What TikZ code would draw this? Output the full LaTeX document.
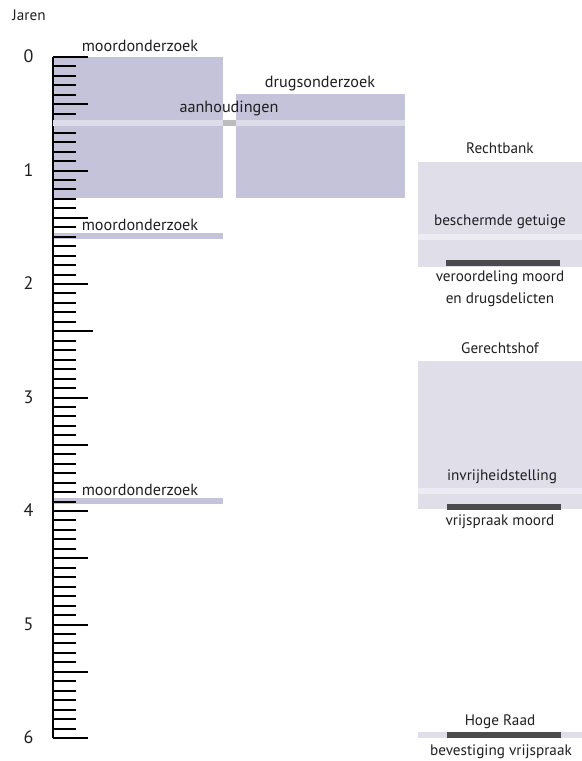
\documentclass[tikz,border=0pt]{standalone}
\usepackage{fontspec}
\setmainfont{PT Sans}
\definecolor{onderzoek}{HTML}{C5C3D9}
\definecolor{streep}{HTML}{DDDCE9}
\definecolor{rechter}{HTML}{DFDEE9}
\definecolor{rechterstreep}{HTML}{ECECF2}
\definecolor{verbinding}{HTML}{BCBCBC}
\definecolor{uitspraak}{HTML}{4B4B4D}

\begin{document}
\begin{tikzpicture}[x=0.5pt, y=-0.5pt,
	lbl/.style={font=\fontsize{8.1}{9}\selectfont, anchor=base, inner sep=0pt, text=black!88},
	rlbl/.style={lbl, font=\fontsize{7.6}{9}\selectfont},
	jaar/.style={font=\fontsize{9}{10}\selectfont, anchor=base, inner sep=0pt, text=black!88},
	tick/.style={line width=1pt, black}]
		\useasboundingbox (0,0) rectangle (582,761);
		\node[lbl, font=\fontsize{7.6}{8}\selectfont] (jaren) at (29,20) {Jaren};

		\fill[onderzoek] (53,57) rectangle (223,198);
		\fill[onderzoek] (236,94) rectangle (405,198);
		\fill[onderzoek] (53,233) rectangle (223,239);
		\fill[onderzoek] (53,498) rectangle (223,504);

		\fill[rechter] (418,162) rectangle (582,267);
		\fill[rechterstreep] (418,234) rectangle (582,240);
		\fill[uitspraak] (446,260) rectangle (560,266);
		\fill[rechter] (418,361) rectangle (582,509);
		\fill[rechterstreep] (418,488) rectangle (582,494);
		\fill[uitspraak] (447,504) rectangle (561,510);
		\fill[rechter] (418,732) rectangle (582,738);
		\fill[uitspraak] (447,732) rectangle (561,738);

		\draw[line width=1pt] (53,57) -- (53,738);
		\foreach \m in {0,...,72}{
			\pgfmathtruncatemacro{\r}{mod(\m,12)}
			\pgfmathsetmacro{\y}{57+\m*9.4583}
			\ifnum\r=0
				\draw[tick] (53,\y) -- (88,\y);
			\else\ifnum\r=5
				\draw[tick] (53,\y) -- (88,\y);
			\else
				\draw[tick] (53,\y) -- (76,\y);
			\fi\fi
		}
		\draw[tick] (53,331.2) -- (93,331.2);
		\foreach \j in {0,...,6}
			\node[jaar] (j\j) at (28.5,57+\j*113.5+5.5) {\j};

		\fill[streep] (53,120) rectangle (223,126);
		\fill[verbinding] (223,120) rectangle (236,126);
		\fill[streep] (236,120) rectangle (405,126);

		\node[lbl] (moord1) at (140,51.7) {moordonderzoek};
		\node[lbl] (moord2) at (140,230) {moordonderzoek};
		\node[lbl] (moord3) at (140,495) {moordonderzoek};
		\node[lbl] (aanh) at (229,112.7) {aanhoudingen};
		\node[lbl] (drugs) at (320,87.3) {drugsonderzoek};

		\node[rlbl] (rb) at (500,153.3) {Rechtbank};
		\node[rlbl] (getuige) at (500,225.7) {beschermde getuige};
		\node[rlbl] (veroord) at (500,281.7) {veroordeling moord};
		\node[rlbl] (delict) at (500,303.3) {en drugsdelicten};
		\node[rlbl] (hof) at (500,353.3) {Gerechtshof};
		\node[rlbl] (vrij) at (502,480) {invrijheidstelling};
		\node[rlbl] (spraak) at (500,525) {vrijspraak moord};
		\node[rlbl] (hr) at (500,725) {Hoge Raad};
		\node[rlbl] (bevest) at (501,755) {bevestiging vrijspraak};
	\end{tikzpicture}
\end{document}
